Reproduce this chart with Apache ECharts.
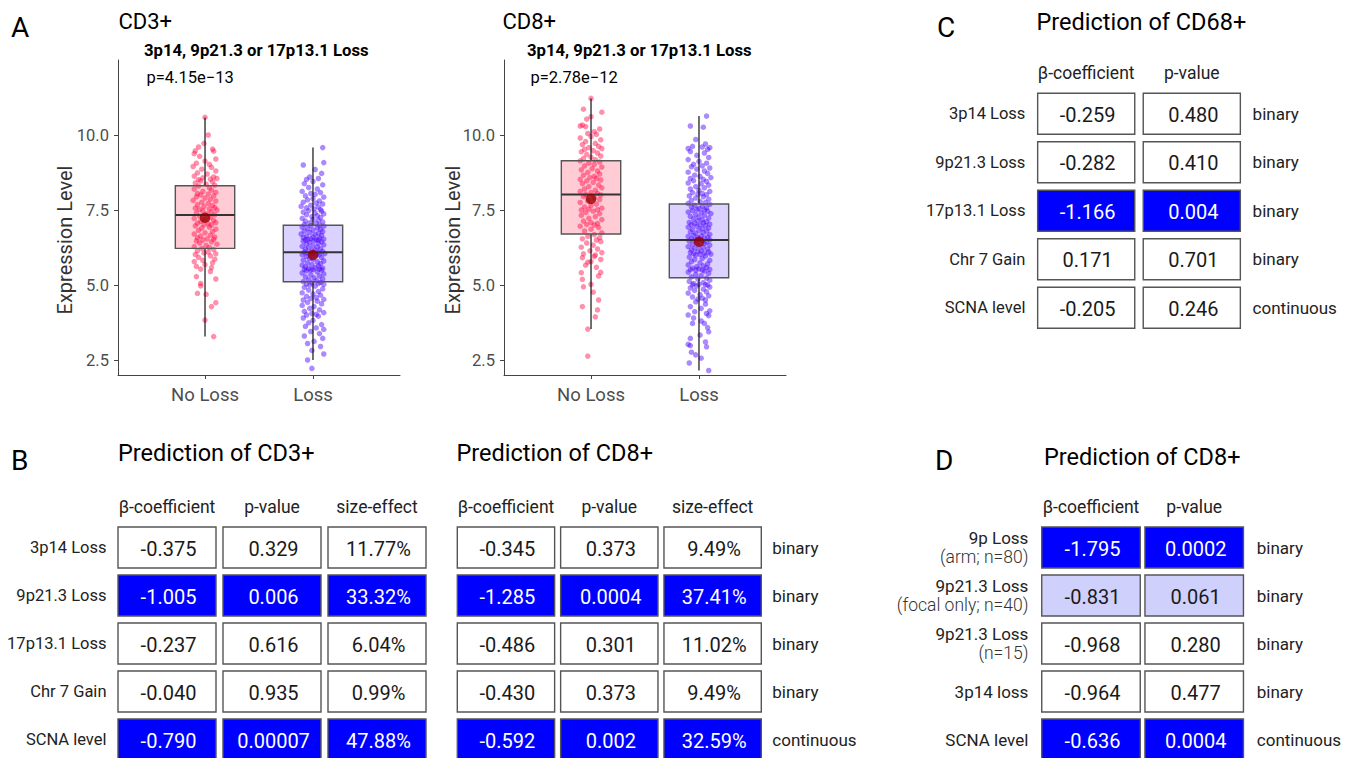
<!DOCTYPE html>
<html><head><meta charset="utf-8">
<script src="https://cdn.jsdelivr.net/npm/echarts@6/dist/echarts.min.js"></script>
<style>html,body{margin:0;padding:0;background:#fff}#c{width:1354px;height:758px}</style>
</head><body><div id="c"></div>
<script>
// ---------- Panel A data ----------
const groups = ['No Loss', 'Loss'];
const yTicks = [2.5, 5, 7.5, 10];
const yTitle = 'Expression Level';
// [group position, lower whisker, q1, median, q3, upper whisker]
const cd3Box = [[1, 3.28, 6.22, 7.33, 8.31, 10.58], [2, 2.50, 5.11, 6.09, 6.99, 9.58]];
const cd3Mean = [[1, 7.24], [2, 6.00]];
const cd8Box = [[1, 3.53, 6.70, 8.02, 9.14, 11.22], [2, 2.15, 5.24, 6.50, 7.70, 10.63]];
const cd8Mean = [[1, 7.87], [2, 6.44]];
// jittered points: [horizontal jitter, expression level]
const cd3NoLoss = [[0,10.59],[.03,10.0],[-.01,9.72],[-.06,9.6],[.07,9.53],[-.09,9.47],[.08,9.46],[-.1,9.38],[-.05,9.29],[.1,9.2],[0,9.13],[-.08,9.06],[.04,9.02],
[-.11,8.95],[.06,8.92],[-.03,8.86],[.1,8.8],[-.07,8.74],[.02,8.7],[-.1,8.63],[.08,8.6],[-.02,8.57],[.05,8.53],[-.06,8.51],[.11,8.55],
[-.04,8.47],[.07,8.44],[-.09,8.4],[.01,8.36],[.09,8.33],[-.06,8.3],[.04,8.24],[-.1,8.2],[.06,8.16],[-.02,8.12],[.1,8.09],[-.07,8.05],[.03,8.03],[-.04,8.0],
[.08,7.97],[-.08,7.94],[0,7.9],[.05,7.86],[-.11,7.82],[.1,7.8],[-.03,7.76],[.03,7.72],[-.07,7.68],[.07,7.65],[-.01,7.62],[.09,7.58],[-.09,7.56],[.04,7.54],[-.05,7.52],[.11,7.5],
[-.02,7.47],[.06,7.44],[-.08,7.4],[.02,7.37],[.09,7.34],[-.05,7.3],[.05,7.26],[-.1,7.22],[0,7.18],[.08,7.15],[-.04,7.12],[.1,7.08],[-.07,7.06],[.03,7.04],[-.01,7.01],[.06,7.0],
[-.09,6.97],[.04,6.93],[-.03,6.9],[.1,6.86],[-.06,6.82],[.07,6.78],[0,6.74],[-.1,6.7],[.05,6.66],[-.04,6.63],[.09,6.6],[-.07,6.57],[.02,6.54],[.08,6.52],[-.02,6.5],
[-.08,6.47],[.06,6.44],[-.05,6.4],[.11,6.36],[.01,6.32],[-.1,6.28],[.04,6.25],[-.03,6.22],[.08,6.18],[-.07,6.14],[.03,6.1],[-.01,6.07],[.1,6.04],[-.09,6.02],
[.05,5.97],[-.06,5.92],[.09,5.86],[-.02,5.82],[-.1,5.78],[.07,5.74],[0,5.68],[-.08,5.62],[.06,5.58],[-.04,5.53],
[.05,5.45],[-.08,5.28],[.1,5.2],[-.04,5.05],[-.04,4.97],[-.07,4.72],[.01,4.69],[.1,4.41],[.06,4.28],[0,3.83],[.08,3.28]];
const cd3Loss = [[.09,9.58],[.1,9.08],[-.09,9.0],[.02,8.85],[.08,8.72],[-.03,8.6],[.05,8.55],[-.06,8.52],
[0,8.45],[-.08,8.38],[.09,8.34],[-.04,8.25],[.04,8.2],[-.1,8.12],[.07,8.08],[-.02,8.05],[.02,8.02],
[-.07,7.97],[.1,7.93],[0,7.88],[-.05,7.84],[.06,7.8],[-.09,7.76],[.03,7.73],[.09,7.7],[-.02,7.66],[-.11,7.62],[.05,7.6],[-.06,7.57],[.01,7.54],[.07,7.51],
[-.04,7.48],[.08,7.46],[-.09,7.43],[.02,7.4],[.1,7.37],[-.06,7.34],[.04,7.31],[-.01,7.28],[.07,7.25],[-.1,7.22],[0,7.19],[.05,7.16],[-.07,7.13],[.09,7.1],[-.03,7.07],[.03,7.05],[-.08,7.02],[.06,7.0],
[-.02,6.98],[.1,6.96],[-.1,6.93],[.04,6.9],[-.05,6.88],[.07,6.85],[0,6.83],[-.08,6.8],[.09,6.78],[-.03,6.75],[.05,6.72],[-.11,6.7],[.02,6.68],[.08,6.65],[-.06,6.63],[0,6.6],[-.09,6.58],[.06,6.56],[-.02,6.54],[.1,6.53],[-.05,6.52],[.03,6.51],[-.07,6.5],[.05,6.5],
[.01,6.48],[-.09,6.46],[.08,6.44],[-.03,6.42],[.05,6.39],[-.06,6.36],[.1,6.34],[0,6.31],[-.1,6.29],[.04,6.26],[-.04,6.24],[.07,6.21],[-.07,6.19],[.02,6.16],[-.01,6.14],[.09,6.12],[-.08,6.1],[.05,6.08],[-.05,6.06],[.11,6.05],[0,6.04],[-.02,6.03],[.06,6.02],[-.1,6.01],
[.03,5.98],[-.06,5.95],[.08,5.92],[-.03,5.89],[0,5.86],[-.09,5.83],[.1,5.8],[.04,5.77],[-.05,5.74],[.07,5.71],[-.01,5.68],[-.1,5.66],[.05,5.63],[-.07,5.6],[.02,5.58],[.09,5.56],[-.04,5.55],[.06,5.53],[-.08,5.52],[0,5.51],[-.02,5.5],[.08,5.5],
[-.06,5.47],[.04,5.44],[-.1,5.4],[.1,5.37],[-.02,5.34],[.06,5.3],[-.07,5.27],[.01,5.24],[.09,5.2],[-.04,5.17],[.03,5.14],[-.09,5.11],[.07,5.09],[-.01,5.07],[.05,5.05],[-.06,5.03],[.1,5.02],[-.03,5.0],
[.02,4.96],[-.08,4.92],[.09,4.87],[-.04,4.83],[.05,4.78],[-.1,4.74],[0,4.7],[.07,4.66],[-.06,4.62],[.03,4.58],[-.02,4.55],[.1,4.52],[-.09,4.5],
[.04,4.46],[-.05,4.42],[.08,4.37],[-.1,4.32],[.01,4.28],[-.03,4.22],[.06,4.17],[-.08,4.12],[.1,4.08],[-.01,4.05],[.03,4.02],[-.06,4.0],
[.05,3.96],[-.09,3.9],[0,3.82],[-.04,3.74],[.08,3.68],[-.07,3.62],[.03,3.57],[.1,3.52],
[-.02,3.45],[.06,3.38],[-.08,3.3],[.09,3.22],[.01,3.12],[-.05,3.05],[.07,2.95],[.1,2.7],[-.01,2.82],[-.05,2.5],[-.01,2.22]];
const cd8NoLoss = [[0,11.22],[-.07,10.86],[.1,10.76],[0,10.61],[-.04,10.53],[-.08,10.33],[-.05,10.28],[.03,10.11],[-.1,10.3],[.08,10.2],[-.03,10.05],[.05,10.02],
[0,9.95],[-.1,9.9],[.09,9.84],[-.05,9.78],[.04,9.72],[-.08,9.68],[.07,9.62],[-.02,9.58],[.1,9.55],[-.06,9.52],
[.02,9.48],[-.09,9.44],[.06,9.4],[-.04,9.35],[.09,9.3],[0,9.26],[-.07,9.22],[.04,9.18],[-.1,9.14],[.08,9.1],[-.02,9.06],[.03,9.02],
[-.06,8.97],[.1,8.93],[.01,8.88],[-.09,8.84],[.06,8.8],[-.03,8.75],[.08,8.7],[-.07,8.66],[.03,8.62],[-.01,8.58],[.05,8.55],[-.1,8.52],[.09,8.5],
[-.04,8.47],[.02,8.42],[-.08,8.38],[.07,8.33],[-.02,8.28],[.1,8.24],[-.06,8.2],[.04,8.16],[-.1,8.12],[0,8.08],[.06,8.05],[-.05,8.02],[.09,8.0],
[-.07,7.95],[.03,7.9],[.08,7.85],[-.03,7.8],[-.1,7.75],[.05,7.7],[0,7.65],[-.06,7.6],[.1,7.56],[-.02,7.53],[.06,7.51],[-.09,7.5],
[.02,7.46],[-.05,7.42],[.08,7.38],[-.09,7.32],[.04,7.28],[-.02,7.22],[.1,7.18],[-.07,7.13],[0,7.08],[.06,7.05],[-.04,7.02],[.03,7.0],
[-.1,6.96],[.07,6.92],[0,6.86],[-.06,6.8],[.1,6.74],[.03,6.68],[-.03,6.62],[.08,6.58],[-.08,6.54],[.05,6.5],
[.09,6.45],[-.04,6.4],[.02,6.33],[-.09,6.26],[.06,6.2],[-.01,6.14],[.1,6.08],[-.07,6.04],[.04,6.0],
[-.08,5.91],[-.03,5.76],[0,5.78],[.05,5.59],[.09,5.85],[-.05,5.66],[.03,5.95],
[-.09,5.41],[.09,5.42],[-.08,5.19],[0,5.02],[.07,5.3],[-.07,4.94],[.02,4.76],[.07,4.5],[-.08,4.28],[.06,4.17],[.04,3.94],[-.03,3.53],[-.03,2.63]];
const cd8Loss = [[.07,10.63],[-.08,10.3],[.04,10.26],[-.06,9.62],[.03,9.6],[.1,9.58],[.08,9.52],[-.1,9.55],[-.03,9.85],[.06,9.7],
[-.08,9.45],[.05,9.4],[-.02,9.32],[.09,9.25],[-.1,9.18],[0,9.12],[.07,9.06],[-.05,9.02],
[.03,8.97],[-.07,8.94],[.1,8.9],[-.02,8.86],[.05,8.8],[-.1,8.76],[.08,8.72],[-.04,8.66],[.01,8.62],[.11,8.58],[-.08,8.55],[.04,8.52],
[-.05,8.48],[.07,8.45],[-.1,8.4],[.02,8.37],[.09,8.33],[-.03,8.28],[.05,8.24],[-.08,8.2],[0,8.16],[.1,8.12],[-.06,8.08],[.03,8.05],[-.01,8.03],[.07,8.01],
[-.09,7.97],[.04,7.94],[-.03,7.9],[.09,7.86],[-.07,7.82],[.01,7.78],[.06,7.75],[-.1,7.72],[.1,7.69],[-.04,7.66],[.03,7.63],[-.07,7.6],[.07,7.57],[0,7.55],[-.02,7.52],[.05,7.5],
[-.06,7.48],[.08,7.46],[-.1,7.43],[.02,7.41],[.11,7.38],[-.03,7.35],[.05,7.32],[-.08,7.29],[0,7.26],[.09,7.23],[-.05,7.2],[.03,7.17],[-.01,7.14],[.07,7.11],[-.09,7.09],[.04,7.07],[-.04,7.05],[.1,7.03],[-.07,7.01],[.01,7.0],
[.06,6.98],[-.02,6.96],[-.1,6.93],[.09,6.9],[.03,6.88],[-.06,6.85],[0,6.82],[.07,6.8],[-.08,6.77],[.04,6.74],[-.03,6.72],[.1,6.69],[-.05,6.66],[.02,6.64],[-.1,6.62],[.08,6.6],[-.01,6.58],[.05,6.56],[-.07,6.54],[0,6.53],[.1,6.51],[-.04,6.5],
[.03,6.48],[-.09,6.46],[.07,6.43],[-.02,6.41],[.05,6.38],[-.06,6.35],[.1,6.33],[0,6.3],[-.1,6.28],[.04,6.25],[-.04,6.22],[.08,6.2],[-.07,6.17],[.02,6.14],[-.01,6.12],[.09,6.1],[-.08,6.08],[.05,6.06],[-.05,6.04],[.11,6.03],[.01,6.02],[-.03,6.0],
[.06,5.97],[-.09,5.93],[.03,5.89],[-.04,5.85],[.1,5.82],[-.07,5.78],[.01,5.74],[.08,5.7],[-.1,5.67],[.04,5.64],[-.02,5.61],[.07,5.58],[-.06,5.56],[0,5.54],[.1,5.52],[-.08,5.51],[.03,5.5],[-.03,5.5],
[.05,5.46],[-.1,5.43],[.09,5.39],[-.03,5.35],[.02,5.31],[-.07,5.27],[.07,5.23],[-.01,5.2],[.1,5.16],[-.09,5.12],[.04,5.08],[-.05,5.05],[0,5.02],[.08,5.0],[-.06,5.0],[.06,5.01],
[-.02,4.97],[.1,4.93],[-.08,4.9],[.04,4.86],[-.04,4.82],[.07,4.77],[-.1,4.73],[.01,4.68],[.09,4.64],[-.06,4.6],[.03,4.56],[-.01,4.53],[.06,4.5],
[-.03,4.44],[.06,4.36],[-.08,4.28],[.02,4.22],[.1,4.14],[-.04,4.11],[.07,4.05],[-.1,4.0],
[.09,3.98],[-.05,3.9],[.02,3.8],[-.06,3.72],[.05,3.72],[.08,3.58],[.09,3.44],[.01,3.33],[-.08,3.22],[.06,3.1],[-.1,3.02],
[.07,2.94],[-.08,2.98],[-.07,2.76],[-.03,2.67],[.02,2.56],[.09,2.15],[-.09,2.4]];

// ---------- Tables data ----------
const rowsB = ['3p14 Loss', '9p21.3 Loss', '17p13.1 Loss', 'Chr 7 Gain', 'SCNA level'];
const varTypes = ['binary', 'binary', 'binary', 'binary', 'continuous'];
const headers3 = ['β-coefficient', 'p-value', 'size-effect'];
const headers2 = ['β-coefficient', 'p-value'];
const cd3Beta = ['-0.375', '-1.005', '-0.237', '-0.040', '-0.790'];
const cd3P    = ['0.329', '0.006', '0.616', '0.935', '0.00007'];
const cd3Eff  = ['11.77%', '33.32%', '6.04%', '0.99%', '47.88%'];
const cd3Sig  = [0, 2, 0, 0, 2];
const cd8Beta = ['-0.345', '-1.285', '-0.486', '-0.430', '-0.592'];
const cd8P    = ['0.373', '0.0004', '0.301', '0.373', '0.002'];
const cd8Eff  = ['9.49%', '37.41%', '11.02%', '9.49%', '32.59%'];
const cd8Sig  = [0, 2, 0, 0, 2];
const cd68Beta = ['-0.259', '-0.282', '-1.166', '0.171', '-0.205'];
const cd68P    = ['0.480', '0.410', '0.004', '0.701', '0.246'];
const cd68Sig  = [0, 0, 2, 0, 0];
const dRowMain = ['9p Loss', '9p21.3 Loss', '9p21.3 Loss', '3p14 loss', 'SCNA level'];
const dRowSub  = ['(arm; n=80)', '(focal only; n=40)', '(n=15)', '', ''];
const dBeta = ['-1.795', '-0.831', '-0.968', '-0.964', '-0.636'];
const dP    = ['0.0002', '0.061', '0.280', '0.477', '0.0004'];
const dSig  = [2, 1, 0, 0, 2];

const titles = [
  {t: 'A', x: 11, y: 27, s: 28},
  {t: 'CD3+', x: 118.5, y: 21.5, s: 22},
  {t: '3p14, 9p21.3 or 17p13.1 Loss', x: 144, y: 50, s: 16.7, b: true},
  {t: 'p=4.15e\u221213', x: 146.5, y: 77, s: 16.5},
  {t: 'CD8+', x: 502.5, y: 21.5, s: 22},
  {t: '3p14, 9p21.3 or 17p13.1 Loss', x: 527, y: 50, s: 16.7, b: true},
  {t: 'p=2.78e\u221212', x: 530.5, y: 77, s: 16.5},
  {t: 'B', x: 11, y: 460, s: 28},
  {t: 'Prediction of CD3+', x: 118, y: 453, s: 23.5},
  {t: 'Prediction of CD8+', x: 456.5, y: 453, s: 23.5},
  {t: 'C', x: 937, y: 27, s: 28},
  {t: 'Prediction of CD68+', x: 1036.5, y: 22, s: 23.5},
  {t: 'D', x: 935, y: 460, s: 28},
  {t: 'Prediction of CD8+', x: 1044, y: 457, s: 23.5}
];
const yTitlePos = [[65, 240], [453, 240]];

// ---------- build ----------
const FONT = 'Roboto, "Noto Sans", sans-serif';
const pink = {pt: 'rgba(255,0,64,0.55)', fill: '#ffccd6'};
const purp = {pt: 'rgba(74,0,255,0.58)', fill: '#dcd2ff'};
const BOXW = 0.275;

const grids = [], xAxes = [], yAxes = [], series = [];

function addPlot(left, box, mean, ptsA, ptsB) {
  const gi = grids.length;
  grids.push({left: left, top: 60, width: 282, height: 315, outerBoundsMode: 'none', containLabel: false});
  xAxes.push({gridIndex: gi, type: 'value', min: 0.194, max: 2.806,
    axisLine: {show: true, onZero: false, lineStyle: {color: '#444', width: 1}},
    axisTick: {show: true, customValues: [1, 2], length: 4, lineStyle: {color: '#444'}},
    axisLabel: {customValues: [1, 2], formatter: v => groups[Math.round(v) - 1], fontSize: 18.5, color: '#4d4d4d', margin: 10, fontFamily: FONT},
    splitLine: {show: false}});
  const yi = yAxes.length;
  yAxes.push({gridIndex: gi, type: 'value', min: 2, max: 12.5,
    axisLine: {show: true, onZero: false, lineStyle: {color: '#444', width: 1}},
    axisTick: {show: true, customValues: yTicks, length: 4, lineStyle: {color: '#444'}},
    axisLabel: {customValues: yTicks, formatter: v => v.toFixed(1), fontSize: 16.5, color: '#4d4d4d', margin: 9, fontFamily: FONT},
    splitLine: {show: false}});
  const cols = [pink, purp];
  series.push({type: 'custom', xAxisIndex: gi, yAxisIndex: yi, z: 1, silent: true, data: box,
    encode: {x: 0, y: [1, 2, 3, 4, 5]},
    renderItem: (p, api) => {
      const x = api.value(0);
      const a = api.coord([x - BOXW, api.value(2)]);
      const b = api.coord([x + BOXW, api.value(4)]);
      return {type: 'rect', shape: {x: a[0], y: b[1], width: b[0] - a[0], height: a[1] - b[1]},
        style: {fill: cols[p.dataIndex].fill}};
    }});
  series.push({type: 'scatter', xAxisIndex: gi, yAxisIndex: yi, z: 2, silent: true, symbolSize: 5.5,
    data: ptsA.map(d => [1 + d[0], d[1]]), itemStyle: {color: pink.pt}});
  series.push({type: 'scatter', xAxisIndex: gi, yAxisIndex: yi, z: 2, silent: true, symbolSize: 5.5,
    data: ptsB.map(d => [2 + d[0], d[1]]), itemStyle: {color: purp.pt}});
  series.push({type: 'custom', xAxisIndex: gi, yAxisIndex: yi, z: 3, silent: true, data: box,
    encode: {x: 0, y: [1, 2, 3, 4, 5]},
    renderItem: (p, api) => {
      const x = api.value(0);
      const lo = api.coord([x, api.value(1)]);
      const a = api.coord([x - BOXW, api.value(2)]);
      const m = api.coord([x, api.value(3)]);
      const b = api.coord([x + BOXW, api.value(4)]);
      const hi = api.coord([x, api.value(5)]);
      return {type: 'group', children: [
        {type: 'line', shape: {x1: hi[0], y1: hi[1], x2: hi[0], y2: b[1]}, style: {stroke: '#111', lineWidth: 1.2}},
        {type: 'line', shape: {x1: lo[0], y1: a[1], x2: lo[0], y2: lo[1]}, style: {stroke: '#111', lineWidth: 1.2}},
        {type: 'rect', shape: {x: a[0], y: b[1], width: b[0] - a[0], height: a[1] - b[1]}, style: {fill: 'none', stroke: '#555', lineWidth: 1.4}},
        {type: 'line', shape: {x1: a[0], y1: m[1], x2: b[0], y2: m[1]}, style: {stroke: '#333', lineWidth: 2}}
      ]};
    }});
  series.push({type: 'scatter', xAxisIndex: gi, yAxisIndex: yi, z: 4, silent: true, symbolSize: 10.5,
    data: mean, itemStyle: {color: '#990000'}});
}

function addTable(cfg) {
  const gi = grids.length;
  grids.push({left: cfg.left, top: cfg.top, width: cfg.width, height: cfg.height, outerBoundsMode: 'none', containLabel: false});
  xAxes.push({gridIndex: gi, type: 'category', data: cfg.headers, position: 'top',
    axisLine: {show: false}, axisTick: {show: false}, splitLine: {show: false},
    axisLabel: {interval: 0, fontSize: 17.5, color: '#222', margin: 8, fontFamily: FONT}});
  const yi = yAxes.length;
  yAxes.push({gridIndex: gi, type: 'category', data: cfg.rows, inverse: true, position: 'left',
    axisLine: {show: false}, axisTick: {show: false}, splitLine: {show: false},
    axisLabel: Object.assign({show: cfg.showRows, interval: 0, fontSize: 16.5, color: '#222', margin: 8, align: 'right', fontFamily: FONT}, cfg.rowLabel || {})});
  if (cfg.types) {
    yAxes.push({gridIndex: gi, type: 'category', data: cfg.rows, inverse: true, position: 'right',
      axisLine: {show: false}, axisTick: {show: false}, splitLine: {show: false},
      axisLabel: {interval: 0, fontSize: 17, color: '#222', margin: cfg.typeMargin, align: 'left', fontFamily: FONT,
        formatter: (v, i) => cfg.types[i]}});
  }
  const cells = [];
  cfg.cols.forEach((col, c) => col.forEach((txt, r) => cells.push({c: c, r: r, t: txt, s: cfg.sig[r]})));
  series.push({type: 'custom', xAxisIndex: gi, yAxisIndex: yi, silent: true, z: 2,
    data: cells.map(d => [d.c, d.r]), encode: {x: 0, y: 1},
    renderItem: (p, api) => {
      const d = cells[p.dataIndex];
      const ctr = api.coord([api.value(0), api.value(1)]);
      const sz = api.size([1, 1]);
      const w = sz[0] - cfg.gx, h = sz[1] - cfg.gy;
      const fill = d.s === 2 ? '#0000ff' : (d.s === 1 ? '#d0d0fc' : '#ffffff');
      return {type: 'group', children: [
        {type: 'rect', shape: {x: ctr[0] - w / 2, y: ctr[1] - h / 2, width: w, height: h},
          style: {fill: fill, stroke: '#555', lineWidth: 1.4}},
        {type: 'text', style: {text: d.t, x: ctr[0] + 1.5, y: ctr[1] + 1, align: 'center', verticalAlign: 'middle',
          fill: d.s === 2 ? '#ffffff' : '#1a1a1a', fontSize: 20, fontFamily: FONT}}
      ]};
    }});
}

addPlot(118, cd3Box, cd3Mean, cd3NoLoss, cd3Loss);
addPlot(504, cd8Box, cd8Mean, cd8NoLoss, cd8Loss);
addTable({left: 114.5, top: 523.5, width: 315, height: 240, gx: 7, gy: 7, headers: headers3, rows: rowsB, showRows: true,
  cols: [cd3Beta, cd3P, cd3Eff], sig: cd3Sig});
addTable({left: 454.3, top: 523.5, width: 310, height: 240, gx: 6, gy: 7, headers: headers3, rows: rowsB, showRows: false,
  cols: [cd8Beta, cd8P, cd8Eff], sig: cd8Sig, types: varTypes, typeMargin: 8});
addTable({left: 1033.4, top: 89.5, width: 211.2, height: 242.5, gx: 8.5, gy: 7.5, headers: headers2, rows: rowsB, showRows: true,
  cols: [cd68Beta, cd68P], sig: cd68Sig, types: varTypes, typeMargin: 8});
addTable({left: 1039.4, top: 523.5, width: 206.4, height: 240, gx: 4.7, gy: 7, headers: headers2,
  rows: dRowMain.map((m, i) => dRowSub[i] ? m + '\n' + dRowSub[i] : m), showRows: true,
  rowLabel: {margin: 11, formatter: (v, i) => dRowSub[i] ? '{a|' + dRowMain[i] + '}\n{b|' + dRowSub[i] + '}' : '{a|' + dRowMain[i] + '}',
    rich: {a: {fontSize: 17, color: '#222', lineHeight: 19, align: 'right', fontFamily: FONT},
           b: {fontSize: 17.5, color: '#333', fontWeight: 300, lineHeight: 19, align: 'right', fontFamily: FONT}}},
  cols: [dBeta, dP], sig: dSig, types: varTypes, typeMargin: 11});

const graphics = titles.map(o => ({type: 'text', x: o.x, y: o.y, silent: true,
    style: {text: o.t, fontSize: o.s, fontWeight: o.b ? 'bold' : 'normal', fontFamily: FONT, fill: '#000', verticalAlign: 'middle', align: 'left'}}));
yTitlePos.forEach(p => graphics.push({type: 'text', x: p[0], y: p[1], rotation: Math.PI / 2, silent: true,
    style: {text: yTitle, fontSize: 20, fontFamily: FONT, fill: '#333', align: 'center', verticalAlign: 'middle'}}));

const chart = echarts.init(document.getElementById('c'), null, {renderer: 'svg'});
chart.setOption({
  backgroundColor: '#ffffff',
  animation: false,
  textStyle: {fontFamily: FONT},
  grid: grids, xAxis: xAxes, yAxis: yAxes, series: series,
  graphic: graphics
});
</script></body></html>
